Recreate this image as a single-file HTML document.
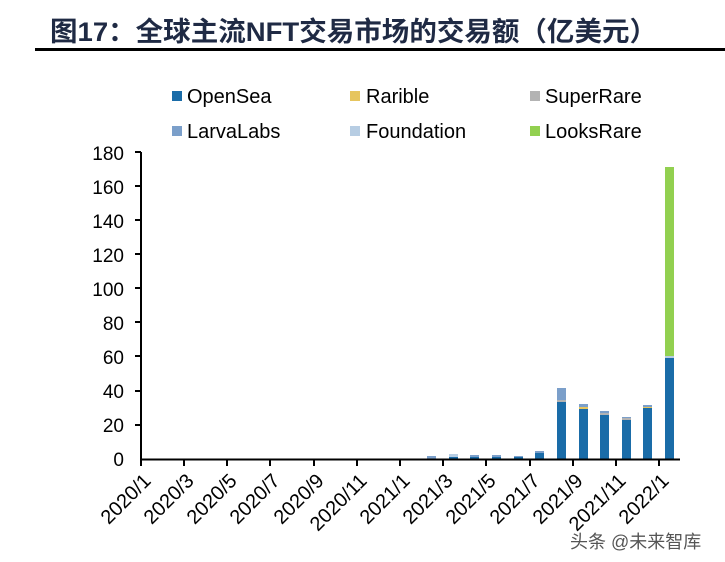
<!DOCTYPE html>
<html><head><meta charset="utf-8"><style>
body{margin:0;background:#fff;}
svg{display:block;font-family:"Liberation Sans","Noto Sans CJK SC",sans-serif;}
</style></head><body>
<svg width="725" height="562" viewBox="0 0 725 562" xmlns="http://www.w3.org/2000/svg">
<text x="50" y="41" font-size="27" font-weight="bold" fill="#1f2a44" textLength="607" lengthAdjust="spacingAndGlyphs">图17：全球主流NFT交易市场的交易额（亿美元）</text>
<rect x="35" y="48" width="690" height="3" fill="#000"/>
<g font-size="20" fill="#000">
<rect x="172" y="91" width="10" height="10" fill="#1a6ca8"/><text x="187" y="103">OpenSea</text>
<rect x="350" y="91" width="10" height="10" fill="#e6c55e"/><text x="366" y="103">Rarible</text>
<rect x="530" y="91" width="10" height="10" fill="#b3b3b3"/><text x="545" y="103">SuperRare</text>
<rect x="172" y="126" width="10" height="10" fill="#7b9fca"/><text x="187" y="138">LarvaLabs</text>
<rect x="350" y="126" width="10" height="10" fill="#b7cde3"/><text x="366" y="138">Foundation</text>
<rect x="530" y="126" width="10" height="10" fill="#92d050"/><text x="545" y="138">LooksRare</text>
</g>
<g font-size="19" text-anchor="end" fill="#000">
<text x="124" y="466">0</text><text x="124" y="432">20</text><text x="124" y="398">40</text><text x="124" y="364">60</text><text x="124" y="330">80</text><text x="124" y="296">100</text><text x="124" y="262">120</text><text x="124" y="228">140</text><text x="124" y="194">160</text><text x="124" y="160">180</text>
</g>
<g stroke="#000" stroke-width="2">
<line x1="141" y1="152" x2="141" y2="460"/>
<line x1="135" y1="152" x2="141" y2="152"/>
<line x1="135" y1="186" x2="141" y2="186"/><line x1="135" y1="220" x2="141" y2="220"/><line x1="135" y1="254" x2="141" y2="254"/><line x1="135" y1="288" x2="141" y2="288"/><line x1="135" y1="322" x2="141" y2="322"/><line x1="135" y1="356" x2="141" y2="356"/><line x1="135" y1="391" x2="141" y2="391"/><line x1="135" y1="425" x2="141" y2="425"/>
</g>
<g>
<rect x="427" y="456" width="9" height="3" fill="#7b9fca"/>
<rect x="449" y="457" width="9" height="2" fill="#1a6ca8"/><rect x="449" y="454" width="9" height="3" fill="#b7cde3"/>
<rect x="470" y="457" width="9" height="2" fill="#1a6ca8"/><rect x="470" y="455" width="9" height="2" fill="#7b9fca"/>
<rect x="492" y="457" width="9" height="2" fill="#1a6ca8"/><rect x="492" y="455" width="9" height="2" fill="#7b9fca"/>
<rect x="514" y="457" width="9" height="2" fill="#1a6ca8"/><rect x="514" y="456" width="9" height="1" fill="#7b9fca"/>
<rect x="535" y="453" width="9" height="6" fill="#1a6ca8"/><rect x="535" y="451" width="9" height="2" fill="#7b9fca"/>
<rect x="557" y="402" width="9" height="57" fill="#1a6ca8"/><rect x="557" y="400" width="9" height="2" fill="#b3b3b3"/><rect x="557" y="388" width="9" height="12" fill="#7b9fca"/>
<rect x="579" y="409" width="9" height="50" fill="#1a6ca8"/><rect x="579" y="407" width="9" height="2" fill="#e6c55e"/><rect x="579" y="404" width="9" height="3" fill="#7b9fca"/>
<rect x="600" y="415" width="9" height="44" fill="#1a6ca8"/><rect x="600" y="413" width="9" height="2" fill="#b3b3b3"/><rect x="600" y="411" width="9" height="2" fill="#7b9fca"/>
<rect x="622" y="420" width="9" height="39" fill="#1a6ca8"/><rect x="622" y="418" width="9" height="2" fill="#b3b3b3"/><rect x="622" y="417" width="9" height="1" fill="#7b9fca"/>
<rect x="643" y="408" width="9" height="51" fill="#1a6ca8"/><rect x="643" y="407" width="9" height="1" fill="#e6c55e"/><rect x="643" y="405" width="9" height="2" fill="#7b9fca"/>
<rect x="665" y="358" width="9" height="101" fill="#1a6ca8"/><rect x="665" y="356" width="9" height="2" fill="#b7cde3"/><rect x="665" y="167" width="9" height="189" fill="#92d050"/>
</g>
<g stroke="#000" stroke-width="2">
<line x1="140" y1="459.5" x2="680" y2="459.5"/>
<line x1="141" y1="459" x2="141" y2="466"/><line x1="184" y1="459" x2="184" y2="466"/><line x1="227" y1="459" x2="227" y2="466"/><line x1="270" y1="459" x2="270" y2="466"/><line x1="314" y1="459" x2="314" y2="466"/><line x1="357" y1="459" x2="357" y2="466"/><line x1="400" y1="459" x2="400" y2="466"/><line x1="443" y1="459" x2="443" y2="466"/><line x1="486" y1="459" x2="486" y2="466"/><line x1="530" y1="459" x2="530" y2="466"/><line x1="573" y1="459" x2="573" y2="466"/><line x1="616" y1="459" x2="616" y2="466"/><line x1="659" y1="459" x2="659" y2="466"/>
</g>
<g font-size="20" text-anchor="end" fill="#000">
<text transform="translate(152,482) rotate(-45)">2020/1</text>
<text transform="translate(195,482) rotate(-45)">2020/3</text>
<text transform="translate(238,482) rotate(-45)">2020/5</text>
<text transform="translate(281,482) rotate(-45)">2020/7</text>
<text transform="translate(325,482) rotate(-45)">2020/9</text>
<text transform="translate(368,482) rotate(-45)">2020/11</text>
<text transform="translate(411,482) rotate(-45)">2021/1</text>
<text transform="translate(454,482) rotate(-45)">2021/3</text>
<text transform="translate(497,482) rotate(-45)">2021/5</text>
<text transform="translate(541,482) rotate(-45)">2021/7</text>
<text transform="translate(584,482) rotate(-45)">2021/9</text>
<text transform="translate(627,482) rotate(-45)">2021/11</text>
<text transform="translate(670,482) rotate(-45)">2022/1</text>
</g>
<text x="570" y="548" font-size="18" fill="#555">头条 @未来智库</text>
</svg>
</body></html>
